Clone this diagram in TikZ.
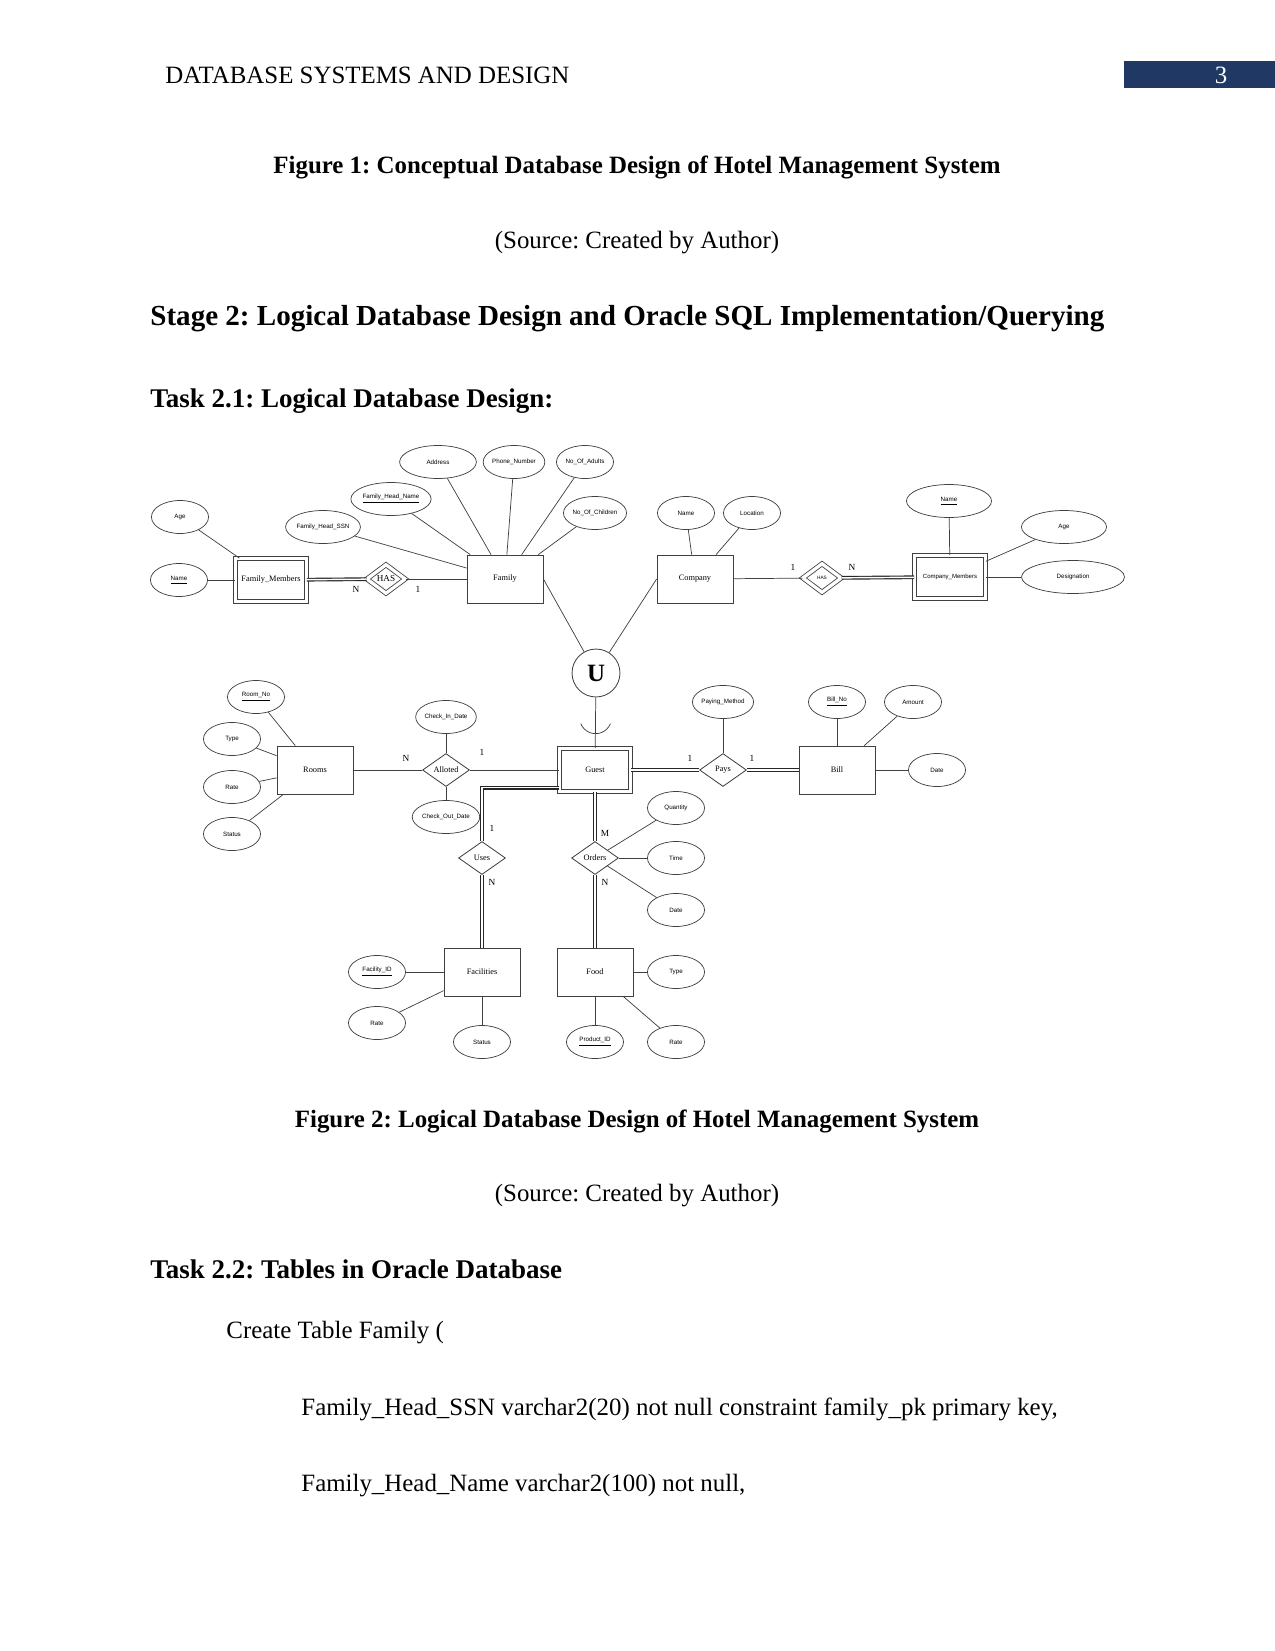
\documentclass[tikz,border=0pt]{standalone}
\usepackage{fontspec}
\setmainfont{Liberation Serif}
\newfontfamily\attrfont{Liberation Sans}
\usepackage{tikz}
\usetikzlibrary{shapes.geometric,calc,positioning}

\definecolor{hdrblue}{RGB}{31,56,100}
\frenchspacing

\begin{document}
\begin{tikzpicture}[x=0.016933cm, y=-0.016933cm]
    \useasboundingbox (0,0) rectangle (1275,1651);

    % Style for nodes
    \tikzset{
        entity/.style={rectangle, draw=black!75, line width=0.4pt, minimum width=36.6pt, minimum height=23.1pt, inner sep=0pt, font=\fontsize{4}{5}\selectfont},
        weakentity/.style={entity, double, double distance=1.6pt, minimum width=34.2pt, minimum height=20.7pt},
        attr/.style={ellipse, draw=black!75, line width=0.35pt, minimum width=27.5pt, minimum height=15.9pt, inner sep=0pt, font=\attrfont\fontsize{3}{3.6}\selectfont},
        rel/.style={diamond, draw=black!75, line width=0.4pt, minimum width=22.6pt, minimum height=15.9pt, inner sep=0pt, font=\fontsize{4}{5}\selectfont},
        weakrel/.style={rel, double, double distance=1.6pt, minimum width=18.6pt, minimum height=13.9pt},
        card/.style={inner sep=0pt, font=\fontsize{4.5}{5}\selectfont},
        conn/.style={draw=black!75, line width=0.35pt},
        total/.style={draw=black!85, line width=0.55pt, double, double distance=0.7pt},
        txt/.style={inner sep=0pt, anchor=base west, font=\fontsize{12}{14}\selectfont}
    }

    % --- PAGE HEADER ---
    \fill[hdrblue] (1124,61) rectangle (1275,88);
    \node[txt] (hdr) at (165,83) {DATABASE SYSTEMS AND DESIGN};
    \node[txt, anchor=base, text=white] (pgnum) at (1221,83) {3};

    % --- TEXT ABOVE THE DIAGRAM ---
    \node[txt, anchor=base, font=\bfseries\fontsize{12}{14}\selectfont] (figonecap) at (637,173) {Figure 1: Conceptual Database Design of Hotel Management System};
    \node[txt, anchor=base] (srcone) at (637,248) {(Source: Created by Author)};
    \node[txt, font=\bfseries\fontsize{14}{16}\selectfont] (stagetwo) at (150,325) {Stage 2: Logical Database Design and Oracle SQL Implementation/Querying};
    \node[txt, font=\bfseries\fontsize{13}{15}\selectfont] (taskone) at (150,407) {Task 2.1: Logical Database Design:};

    % --- ENTITIES ---
    \node[weakentity] (fammem) at (271,580) {Family\_Members};
    \node[entity] (family) at (505,579) {Family};
    \node[entity] (company) at (695,579) {Company};
    \node[weakentity, font=\attrfont\fontsize{2.9}{3.5}\selectfont] (compmem) at (950,577) {Company\_Members};
    \node[entity] (rooms) at (315,770) {Rooms};
    \node[weakentity] (guest) at (595,770) {Guest};
    \node[entity] (bill) at (837,770) {Bill};
    \node[entity] (facilities) at (482,972) {Facilities};
    \node[entity] (food) at (595,972) {Food};

    % --- RELATIONSHIPS ---
    \node[weakrel, font=\fontsize{4.4}{5}\selectfont] (hasfam) at (386,579) {HAS};
    \node[weakrel, font=\attrfont\fontsize{2.3}{3}\selectfont] (hascomp) at (822,578) {HAS};
    \node[rel] (alloted) at (446,770) {Alloted};
    \node[rel] (pays) at (723,770) {Pays};
    \node[rel] (uses) at (482,858) {Uses};
    \node[rel] (orders) at (595,858) {Orders};
    \node[circle, draw=black!75, line width=0.4pt, minimum size=23.1pt, inner sep=0pt, font=\bfseries\fontsize{12}{12}\selectfont] (ucirc) at (596,673) {U};

    % --- ATTRIBUTES ---
    \foreach \n/\x/\y/\w/\t in {
        age1/180/517/27.5/Age, name1/179/580/27.5/{\underline{Name}},
        fhssn/323/527/27.5/{Family\_Head\_SSN}, fhname/391/499/36/{\underline{Family\_Head\_Name}},
        address/438/462/37/Address, phone/514/462/27.5/{Phone\_Number},
        adults/585/462/27.5/{No\_Of\_Adults}, children/595/513/27.5/{No\_Of\_Children},
        cname/686/513/27.5/Name, location/752/513/27.5/Location,
        cmname/949/501/41/{\underline{Name}}, cmage/1064/527/41/Age, desig/1073/577/49.6/Designation,
        roomno/256/697/27.5/{\underline{Room\_No}}, rtype/232/739/27.5/Type,
        rrate/232/787/27.5/Rate, rstatus/232/834/27.5/Status,
        checkin/446/717/28/{Check\_In\_Date}, checkout/446/817/28/{Check\_Out\_Date},
        paymeth/723/702/27.5/{Paying\_Method}, billno/837/702/27.5/{\underline{Bill\_No}},
        amount/913/702/27.5/Amount, bdate/937/770/27.5/Date,
        qty/676/808/27.5/Quantity, otime/676/858/27.5/Time, odate/676/910/27.5/Date,
        facid/377/972/27.5/{\underline{Facility\_ID}}, frate/377/1023/27.5/Rate, fstatus/482/1042/27.5/Status,
        ftype/676/972/27.5/Type, foodrate/676/1042/27.5/Rate, prodid/595/1042/27.5/{\underline{Product\_ID}}
    } {
        \node[attr, minimum width=\w pt] (\n) at (\x,\y) {\t};
    }

    % --- ATTRIBUTE LINES ---
    \foreach \a/\b in {age1/fammem, name1/fammem, fhssn/family, fhname/family, address/family,
        phone/family, adults/family, children/family, cname/company, location/company,
        cmname/compmem, cmage/compmem, desig/compmem, roomno/rooms, rtype/rooms, rrate/rooms,
        rstatus/rooms, checkin/alloted, checkout/alloted, paymeth/pays, billno/bill, amount/bill,
        bdate/bill, qty/orders, otime/orders, odate/orders, facid/facilities, frate/facilities,
        fstatus/facilities, ftype/food, foodrate/food, prodid/food}
        \draw[conn] (\a) -- (\b);

    % --- RELATIONSHIP LINES ---
    \draw[total] (fammem) -- (hasfam);
    \draw[conn] (hasfam) -- (family);
    \draw[conn] (company) -- (hascomp);
    \draw[total] (hascomp) -- (compmem);
    \draw[conn] (family.east) -- (ucirc);
    \draw[conn] (company.west) -- (ucirc);
    \draw[conn] (ucirc) -- (guest);
    \draw[conn] (rooms) -- (alloted);
    \draw[conn] (alloted) -- (guest);
    \draw[total] (guest) -- (pays);
    \draw[total] (pays) -- (bill);
    \draw[total] ([yshift=2pt]guest.south west) -| (uses.north);
    \draw[total] (uses) -- (facilities);
    \draw[total] (guest) -- (orders);
    \draw[total] (orders) -- (food);

    % subset cup on the union line
    \coordinate (cupc) at ($(ucirc.south)!0.4!(guest.north)$);
    \draw[conn] ([shift={(202:7.7pt)}]cupc) arc[start angle=202, end angle=338, radius=7.7pt];

    % --- CARDINALITIES ---
    \node[card] (cfm) at (356,589) {N};
    \node[card] (cfa) at (418,589) {1};
    \node[card] (cco) at (793,567) {1};
    \node[card] (ccm) at (852,567) {N};
    \node[card] (cro) at (406,758) {N};
    \node[card] (cgr) at (482,752) {1};
    \node[card] (cgp) at (690,758) {1};
    \node[card] (cbi) at (752,758) {1};
    \node[card] (cgu) at (492,828) {1};
    \node[card] (cfc) at (492,882) {N};
    \node[card] (cgo) at (605,833) {M};
    \node[card] (cfo) at (605,882) {N};

    % --- TEXT BELOW THE DIAGRAM ---
    \node[txt, anchor=base, font=\bfseries\fontsize{12}{14}\selectfont] (figtwocap) at (637,1127) {Figure 2: Logical Database Design of Hotel Management System};
    \node[txt, anchor=base] (srctwo) at (637,1201) {(Source: Created by Author)};
    \node[txt, font=\bfseries\fontsize{13}{15}\selectfont] (tasktwo) at (150,1278) {Task 2.2: Tables in Oracle Database};
    \node[txt] (createtab) at (226,1338) {Create Table Family (};
    \node[txt] (colssn) at (301,1415) {Family\_Head\_SSN varchar2(20) not null constraint family\_pk primary key,};
    \node[txt] (colname) at (301,1491) {Family\_Head\_Name varchar2(100) not null,};
\end{tikzpicture}
\end{document}
